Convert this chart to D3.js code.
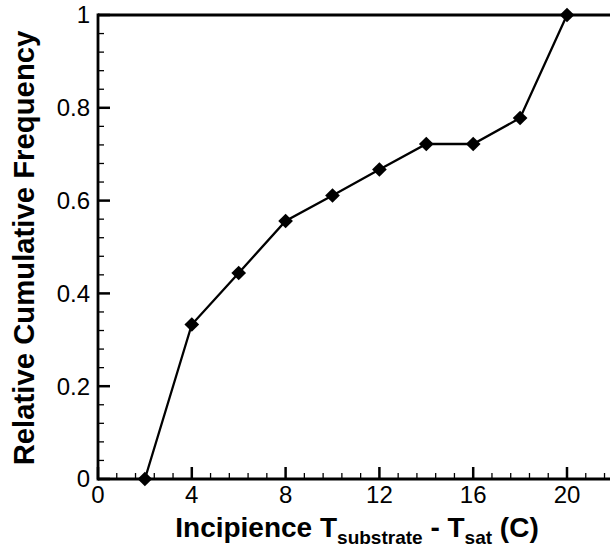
<!DOCTYPE html>
<html><head><meta charset="utf-8">
<script src="https://cdn.jsdelivr.net/npm/d3@7"></script>
<style>body{margin:0;background:#fff}svg{display:block}text{font-family:"Liberation Sans",Arial,sans-serif}</style>
</head><body>
<svg id="c" width="610" height="552"></svg>
<script>
const xValues = [2, 4, 6, 8, 10, 12, 14, 16, 18, 20];
const yValues = [0, 0.333, 0.444, 0.556, 0.611, 0.667, 0.722, 0.722, 0.778, 1];
const xTicks = [0, 4, 8, 12, 16, 20];
const yTicks = [0, 0.2, 0.4, 0.6, 0.8, 1];
const yTickLabels = ["0", "0.2", "0.4", "0.6", "0.8", "1"];

const svg = d3.select("#c");
const L = 98, T = 15, B = 479, Rpx = 98 + 22 * 23.45;
const x = d3.scaleLinear().domain([0, 22]).range([L, Rpx]);
const y = d3.scaleLinear().domain([0, 1]).range([B, T]);

// minor ticks
const xMinor = d3.range(0, 22.01, 0.8).filter(v => xTicks.every(t => Math.abs(t - v) > 1e-6));
const yMinor = d3.range(0, 1.001, 0.04).filter(v => yTicks.every(t => Math.abs(t - v) > 1e-6));

const g = svg.append("g");
g.selectAll(".xm").data(xMinor).join("line")
  .attr("x1", d => x(d)).attr("x2", d => x(d)).attr("y1", B).attr("y2", B - 6)
  .attr("stroke", "#000").attr("stroke-width", 1.3);
g.selectAll(".xM").data(xTicks).join("line")
  .attr("x1", d => x(d)).attr("x2", d => x(d)).attr("y1", B).attr("y2", B - 12)
  .attr("stroke", "#000").attr("stroke-width", 2.5);
g.selectAll(".ym").data(yMinor).join("line")
  .attr("y1", d => y(d)).attr("y2", d => y(d)).attr("x1", L).attr("x2", L + 6)
  .attr("stroke", "#000").attr("stroke-width", 1.3);
g.selectAll(".yM").data(yTicks).join("line")
  .attr("y1", d => y(d)).attr("y2", d => y(d)).attr("x1", L).attr("x2", L + 12)
  .attr("stroke", "#000").attr("stroke-width", 2.5);

// frame lines
g.append("line").attr("x1", L).attr("x2", Rpx).attr("y1", B).attr("y2", B).attr("stroke", "#000").attr("stroke-width", 2.8);
g.append("line").attr("x1", L).attr("x2", Rpx).attr("y1", T).attr("y2", T).attr("stroke", "#000").attr("stroke-width", 2.8);
g.append("line").attr("x1", L).attr("x2", L).attr("y1", T - 1.4).attr("y2", B + 1.4).attr("stroke", "#000").attr("stroke-width", 2.8);

// tick labels
g.selectAll(".xl").data(xTicks).join("text")
  .attr("x", d => x(d)).attr("y", 503).attr("text-anchor", "middle")
  .attr("font-size", 24).text(d => d);
g.selectAll(".yl").data(yTicks).join("text")
  .attr("x", L - 8).attr("y", d => y(d)).attr("dy", "0.35em").attr("text-anchor", "end")
  .attr("font-size", 24).text((d, i) => yTickLabels[i]);

// data line
const pts = xValues.map((v, i) => [v, yValues[i]]);
g.append("path").datum(pts)
  .attr("d", d3.line().x(d => x(d[0])).y(d => y(d[1])))
  .attr("fill", "none").attr("stroke", "#000").attr("stroke-width", 2.3);
g.selectAll(".pt").data(pts).join("path")
  .attr("d", d3.symbol(d3.symbolSquare, 108)())
  .attr("transform", d => `translate(${x(d[0])},${y(d[1])}) rotate(45)`)
  .attr("fill", "#000");

// axis titles
const xt = svg.append("text").attr("x", 357).attr("y", 537).attr("text-anchor", "middle")
  .attr("font-size", 28).attr("font-weight", "bold");
xt.append("tspan").text("Incipience T");
xt.append("tspan").attr("font-size", 19).attr("dy", 7).text("substrate");
xt.append("tspan").attr("dy", -7).text(" - T");
xt.append("tspan").attr("font-size", 19).attr("dy", 7).text("sat");
xt.append("tspan").attr("dy", -7).text(" (C)");

svg.append("text").attr("transform", "translate(34,248) rotate(-90)")
  .attr("text-anchor", "middle").attr("font-size", 29.3).attr("font-weight", "bold")
  .text("Relative Cumulative Frequency");
</script>
</body></html>
